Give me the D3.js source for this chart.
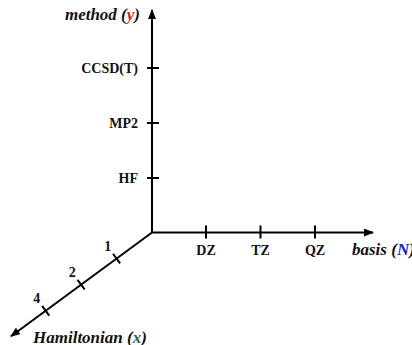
<!DOCTYPE html>
<html>
<head>
<meta charset="utf-8">
<script src="https://cdn.jsdelivr.net/npm/d3@7"></script>
<style>
  html, body { margin: 0; padding: 0; background: #fff; }
  svg { display: block; }
  svg text { font-family: 'Liberation Serif', 'DejaVu Serif', 'Times New Roman', Times, serif; font-weight: bold; fill: #111; }
  .title { font-style: italic; font-size: 17px; }
  .tick-label { font-size: 14px; }
</style>
</head>
<body>
<div id="chart"></div>
<script>
const WIDTH = 412
const HEIGHT = 345
const FONT = "'Liberation Serif', 'DejaVu Serif', serif"

const methods = ['HF', 'MP2', 'CCSD(T)']
const bases = ['DZ', 'TZ', 'QZ']
const hamiltonians = ['1', '2', '4']

const origin = { x: 152, y: 232.5 }

const svg = d3.select('#chart')
  .append('svg')
  .attr('width', WIDTH)
  .attr('height', HEIGHT)
  .attr('viewBox', `0 0 ${WIDTH} ${HEIGHT}`)
  .attr('font-family', FONT)

svg.append('defs').append('marker')
  .attr('id', 'arrow')
  .attr('viewBox', '0 0 10 8')
  .attr('refX', 9)
  .attr('refY', 4)
  .attr('markerWidth', 10)
  .attr('markerHeight', 8)
  .attr('markerUnits', 'userSpaceOnUse')
  .attr('orient', 'auto')
  .append('path')
  .attr('d', 'M0,0 L10,4 L0,8 Z')
  .attr('fill', '#000')

// scales
const yScale = d3.scalePoint().domain(methods).range([178, 68])
const xScale = d3.scalePoint().domain(bases).range([206, 315])
const hScale = d3.scalePoint().domain(hamiltonians).range([44, 132])

// diagonal direction (towards lower left)
const ang = Math.atan2(103, -140)
const dir = { x: Math.cos(ang), y: Math.sin(ang) }
const perp = { x: -dir.y, y: dir.x } // points up-left
const along = (d) => ({ x: origin.x + dir.x * d, y: origin.y + dir.y * d })

const axes = svg.append('g')
  .attr('stroke', '#000')
  .attr('stroke-width', 2)
  .attr('fill', 'none')

// method axis
axes.append('line')
  .attr('x1', origin.x).attr('y1', origin.y)
  .attr('x2', origin.x).attr('y2', 10)
  .attr('marker-end', 'url(#arrow)')

// basis axis
axes.append('line')
  .attr('x1', origin.x).attr('y1', origin.y)
  .attr('x2', 373).attr('y2', origin.y)
  .attr('marker-end', 'url(#arrow)')

// hamiltonian axis
const end = along(175)
axes.append('line')
  .attr('x1', origin.x).attr('y1', origin.y)
  .attr('x2', end.x).attr('y2', end.y)
  .attr('marker-end', 'url(#arrow)')

// ticks
axes.selectAll('.ytick').data(methods).join('line')
  .attr('x1', origin.x - 5).attr('x2', origin.x + 7)
  .attr('y1', (d) => yScale(d)).attr('y2', (d) => yScale(d))

axes.selectAll('.xtick').data(bases).join('line')
  .attr('x1', (d) => xScale(d)).attr('x2', (d) => xScale(d))
  .attr('y1', origin.y - 7).attr('y2', origin.y + 6)

axes.selectAll('.htick').data(hamiltonians).join('line')
  .attr('x1', (d) => along(hScale(d)).x + perp.x * 6)
  .attr('y1', (d) => along(hScale(d)).y + perp.y * 6)
  .attr('x2', (d) => along(hScale(d)).x - perp.x * 6)
  .attr('y2', (d) => along(hScale(d)).y - perp.y * 6)

// tick labels
svg.selectAll('.ylab').data(methods).join('text')
  .attr('class', 'tick-label')
  .attr('x', 138)
  .attr('y', (d) => yScale(d) + 4.5)
  .attr('text-anchor', 'end')
  .text((d) => d)

svg.selectAll('.xlab').data(bases).join('text')
  .attr('class', 'tick-label')
  .attr('x', (d) => xScale(d))
  .attr('y', 254.5)
  .attr('text-anchor', 'middle')
  .text((d) => d)

svg.selectAll('.hlab').data(hamiltonians).join('text')
  .attr('class', 'tick-label')
  .attr('x', (d) => along(hScale(d)).x + perp.x * 15)
  .attr('y', (d) => along(hScale(d)).y + perp.y * 15 + 4.5)
  .attr('text-anchor', 'middle')
  .text((d) => d)

// axis titles
const title = (x, y, name, sym, color) => {
  const t = svg.append('text').attr('class', 'title').attr('x', x).attr('y', y)
  t.append('tspan').text(`${name} (`)
  t.append('tspan').style('fill', color).text(sym)
  t.append('tspan').text(')')
  return t
}

title(140, 20, 'method', 'y', '#e3191c').attr('text-anchor', 'end')
title(352, 255, 'basis', 'N', '#2020c8')
title(33, 343, 'Hamiltonian', 'x', '#2f6258')
</script>
</body>
</html>
